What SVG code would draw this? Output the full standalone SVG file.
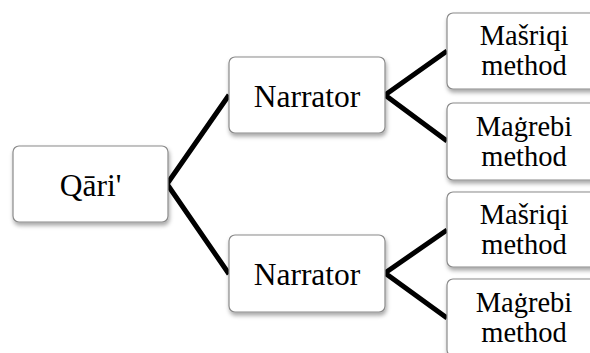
<svg xmlns="http://www.w3.org/2000/svg" width="590" height="353" viewBox="0 0 590 353">
<defs>
<filter id="sh" x="-10%" y="-10%" width="130%" height="140%">
<feDropShadow dx="1" dy="3" stdDeviation="2" flood-color="#000" flood-opacity="0.35"/>
</filter>
<style>
.box{fill:#fff;stroke:#8a8a8a;stroke-width:1.2;filter:url(#sh)}
.t{font-size:31.5px;fill:#000;text-anchor:middle}
.s{font-size:28.5px}
.c{stroke:#000;stroke-width:5;fill:none;stroke-linejoin:miter}
</style>
</defs>
<rect width="590" height="353" fill="#fff"/>
<g id="connectors">
<polyline class="c" points="229,95 167,184 229,274"/>
<polyline class="c" points="447,51 385,95 447,141"/>
<polyline class="c" points="447,230 385,273 447,318"/>
</g>
<g font-family="Liberation Serif, Times New Roman, serif">
<g id="qari">
<rect class="box" x="13" y="146" width="155" height="76" rx="6"/>
<text class="t" x="90.5" y="196">Qāri'</text>
</g>
<g id="narrator1">
<rect class="box" x="229" y="57" width="156" height="76" rx="6"/>
<text class="t" x="307" y="107">Narrator</text>
</g>
<g id="narrator2">
<rect class="box" x="229" y="235" width="156" height="77" rx="6"/>
<text class="t" x="307" y="285">Narrator</text>
</g>
<g id="mashriqi1">
<rect class="box" x="447" y="13" width="156" height="76" rx="6"/>
<text class="t s" x="524" y="45">Mašriqi</text>
<text class="t s" x="524" y="75">method</text>
</g>
<g id="maghrebi1">
<rect class="box" x="447" y="103" width="156" height="77" rx="6"/>
<text class="t s" x="524" y="136">Maġrebi</text>
<text class="t s" x="524" y="166">method</text>
</g>
<g id="mashriqi2">
<rect class="box" x="447" y="192" width="156" height="75" rx="6"/>
<text class="t s" x="524" y="224">Mašriqi</text>
<text class="t s" x="524" y="254">method</text>
</g>
<g id="maghrebi2">
<rect class="box" x="447" y="279" width="156" height="77" rx="6"/>
<text class="t s" x="524" y="312">Maġrebi</text>
<text class="t s" x="524" y="342">method</text>
</g>
</g>
</svg>
